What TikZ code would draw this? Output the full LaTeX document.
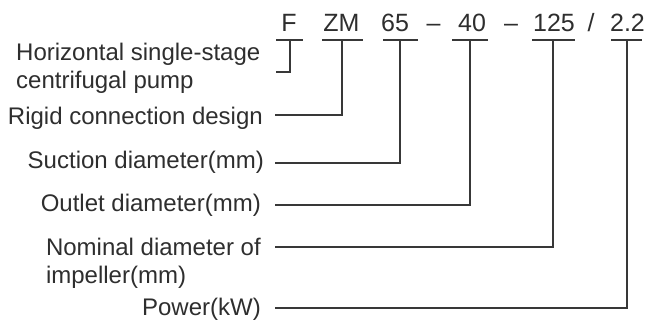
\documentclass[tikz,border=0pt]{standalone}
\usepackage{fontspec}
\setmainfont{Liberation Sans}
\begin{document}
\begin{tikzpicture}[x=1pt,y=-1pt,
  txt/.style={inner sep=0pt, text=black!82, font=\fontsize{24}{28}\selectfont},
  code/.style={txt, anchor=base, font=\fontsize{25}{28}\selectfont},
  lab/.style={txt, anchor=base east},
  conn/.style={draw=black!78, line width=1.3pt}]
\useasboundingbox (0,0) rectangle (652,321);
% code letters
\node[code] (cF)   at (289,31)   {F};
\node[code] (cZM)  at (341.5,31) {ZM};
\node[code] (c65)  at (395,31)   {65};
\node[code] (d1)   at (433.5,31) {–};
\node[code] (c40)  at (472,31)   {40};
\node[code] (d2)   at (511,31)   {–};
\node[code] (c125) at (554,31)   {125};
\node[code] (sl)   at (591,31)   {/};
\node[code] (c22)  at (627.5,31) {2.2};
% labels
\node[lab] (lH) at (260.5,60) {\begin{tabular}[t]{@{}l@{}}Horizontal single-stage\\centrifugal pump\end{tabular}};
\node[lab] (lR) at (263,124) {Rigid connection design};
\node[lab] (lS) at (264,168) {Suction diameter(mm)};
\node[lab] (lO) at (261,211) {Outlet diameter(mm)};
\node[lab] (lN) at (261,255) {\begin{tabular}[t]{@{}l@{}}Nominal diameter of\\impeller(mm)\end{tabular}};
\node[lab] (lP) at (261,315) {Power(kW)};
% underline start/end and elbow coordinates
\coordinate (uF1) at (276,40);  \coordinate (uF2) at (303,40);  \coordinate (mF) at (290,40);  \coordinate (kF) at (276,72);
\coordinate (uZ1) at (322,40);  \coordinate (uZ2) at (363,40);  \coordinate (mZ) at (342,40);  \coordinate (kZ) at (275,115);
\coordinate (u61) at (383,40);  \coordinate (u62) at (418,40);  \coordinate (m6) at (400,40);  \coordinate (k6) at (275,163);
\coordinate (u41) at (452,40);  \coordinate (u42) at (488,40);  \coordinate (m4) at (470,40);  \coordinate (k4) at (275,205);
\coordinate (u11) at (532,40);  \coordinate (u12) at (575,40);  \coordinate (m1) at (553,40);  \coordinate (k1) at (275,247);
\coordinate (u21) at (611,40);  \coordinate (u22) at (642,40);  \coordinate (m2) at (627,40);  \coordinate (k2) at (275,308);
% connectors
\draw[conn] (uF1) -- (uF2);
\draw[conn] (mF) |- (kF);
\draw[conn] (uZ1) -- (uZ2);
\draw[conn] (mZ) |- (kZ);
\draw[conn] (u61) -- (u62);
\draw[conn] (m6) |- (k6);
\draw[conn] (u41) -- (u42);
\draw[conn] (m4) |- (k4);
\draw[conn] (u11) -- (u12);
\draw[conn] (m1) |- (k1);
\draw[conn] (u21) -- (u22);
\draw[conn] (m2) |- (k2);
\end{tikzpicture}
\end{document}
